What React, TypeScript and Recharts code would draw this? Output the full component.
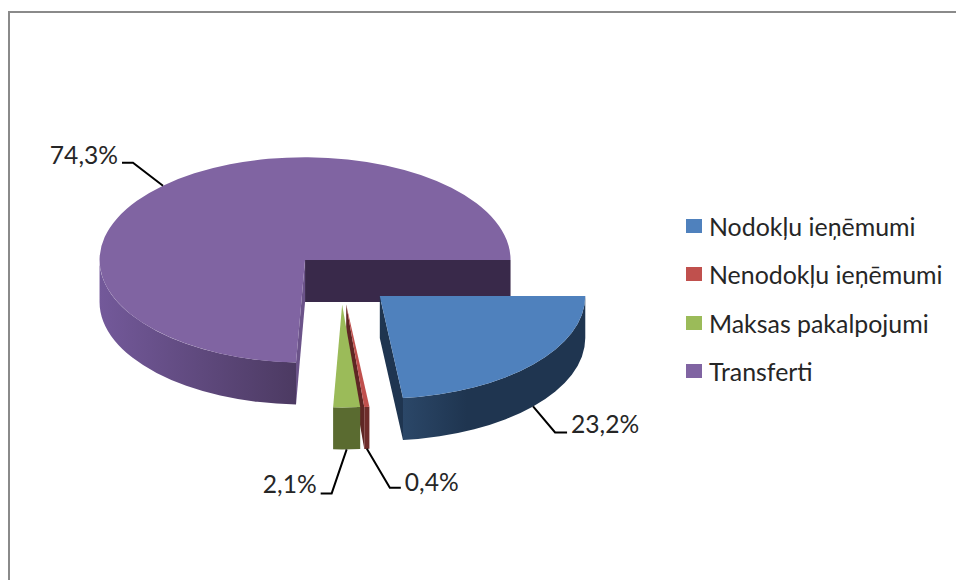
import { PieChart, Pie, Legend } from "recharts"

const categories = ["Nodokļu ieņēmumi", "Nenodokļu ieņēmumi", "Maksas pakalpojumi", "Transferti"]
const shares = [23.2, 0.4, 2.1, 74.3]

const topColors = ["#4f81bd", "#c0504d", "#9bbb59", "#8064a2"]
const wallLeftColors = ["#2b4768", "#6e2c2a", "#5a6b30", "#73599a"]
const wallRightColors = ["#1f3550", "#6e2c2a", "#5a6b30", "#4c3a62"]
const edgeColors = ["#1f3550", "#5f2624", "#5a6b30", "#6b5389"]
const purpleBackEdge = "#39294a"

// leader line elbow and end, relative to the point on the slice rim
const leaders = [
  { elbow: [22, 26], end: [34, 26], textDy: 1 },
  { elbow: [23, 39], end: [34, 39], textDy: 3 },
  { elbow: [-15, 44], end: [-26, 44], textDy: 0 },
  { elbow: [-30, -23], end: [-41, -23], textDy: 1 },
]

const FONT = "Lato, Carlito, sans-serif"
const TILT = 0.5
const EXPLODE = 0.253
const DEPTH = 42

// purple has to be painted first, so the table starts with it and the pie is rotated to match
const total = shares.reduce((a, b) => a + b, 0)
const order = [3, 0, 1, 2]
const rotation = -((total - shares[3]) / total) * 360
const table = order.map((i) => ({ name: categories[i], value: shares[i], idx: i }))

const rad = (d: number) => (d * Math.PI) / 180

function sliceCenter(cx: number, cy: number, r: number, mid: number) {
  return {
    x: cx + EXPLODE * r * Math.cos(rad(mid)),
    y: cy + EXPLODE * r * TILT * Math.sin(rad(mid)),
  }
}

function Slice3D(props: any) {
  const { cx, cy, outerRadius: r, startAngle, endAngle, midAngle, payload } = props
  const idx = payload.idx
  // turn recharts' negative angles into clockwise screen angles
  const a1 = -startAngle
  const a2 = -endAngle
  const c = sliceCenter(cx, cy, r, -midAngle)
  const ry = r * TILT
  const pt = (a: number, dy = 0) => ({
    x: c.x + r * Math.cos(rad(a)),
    y: c.y + ry * Math.sin(rad(a)) + dy,
  })
  const p1 = pt(a1)
  const p2 = pt(a2)
  const large = a2 - a1 > 180 ? 1 : 0
  const top = `M${c.x},${c.y} L${p1.x},${p1.y} A${r},${ry} 0 ${large} 1 ${p2.x},${p2.y} Z`

  const walls: any[] = []
  const radialWall = (a: number, key: string, color: string) => {
    const p = pt(a)
    walls.push(
      <path
        key={key}
        d={`M${c.x},${c.y} L${p.x},${p.y} L${p.x},${p.y + DEPTH} L${c.x},${c.y + DEPTH} Z`}
        fill={color}
      />,
    )
  }
  // a cut face shows only when it hangs outside the slice
  if (Math.cos(rad(a1)) < 0) radialWall(a1, "start", edgeColors[idx])
  if (Math.cos(rad(a2)) > 0) radialWall(a2, "end", idx === 3 ? purpleBackEdge : edgeColors[idx])

  // the rim is visible only on the front half of the ellipse
  const from = ((a1 % 360) + 360) % 360
  const span = a2 - a1
  const rimStart = Math.max(from, 0)
  const rimEnd = Math.min(from + span, 180)
  let rim = null
  if (rimEnd > rimStart) {
    const s = pt(rimStart)
    const e = pt(rimEnd)
    // purple goes light to dark across the whole rim, blue darkens quickly from the cut
    const stop = idx === 0 ? "35%" : "100%"
    rim = (
      <>
        <defs>
          <linearGradient id={`wall-${idx}`} x1="0" y1="0" x2="1" y2="0">
            <stop offset="0%" stopColor={wallLeftColors[idx]} />
            <stop offset={stop} stopColor={wallRightColors[idx]} />
          </linearGradient>
        </defs>
        <path
          d={`M${s.x},${s.y} A${r},${ry} 0 0 1 ${e.x},${e.y} L${e.x},${e.y + DEPTH} A${r},${ry} 0 0 0 ${s.x},${s.y + DEPTH} Z`}
          fill={`url(#wall-${idx})`}
        />
      </>
    )
  }

  return (
    <g>
      {walls}
      {rim}
      <path d={top} fill={topColors[idx]} />
    </g>
  )
}

function LeaderLabel(props: any) {
  const { cx, cy, outerRadius: r, midAngle, payload } = props
  const idx = payload.idx
  const mid = -midAngle
  const c = sliceCenter(cx, cy, r, mid)
  const sinMid = Math.sin(rad(mid))
  const x = c.x + r * Math.cos(rad(mid))
  const y = c.y + r * TILT * sinMid + (sinMid > 0 ? DEPTH : 0)
  const { elbow, end, textDy } = leaders[idx]
  const ex = x + end[0]
  const ey = y + end[1]
  const right = end[0] > 0
  return (
    <g>
      <polyline
        points={`${x},${y} ${x + elbow[0]},${y + elbow[1]} ${ex},${ey}`}
        fill="none"
        stroke="#000000"
        strokeWidth={2}
      />
      <text
        x={right ? ex + 4 : ex - 4}
        y={ey + textDy}
        textAnchor={right ? "start" : "end"}
        fontFamily={FONT}
        fontSize={24.6}
        fill="#262626"
      >
        {payload.value.toFixed(1).replace(".", ",")}%
      </text>
    </g>
  )
}

function ChartLegend() {
  return (
    <div style={{ position: "absolute", left: 686, top: 202, fontFamily: FONT, fontSize: 24.9, color: "#262626" }}>
      {categories.map((name, i) => (
        <div key={name} style={{ display: "flex", alignItems: "center", height: 48.3, whiteSpace: "nowrap" }}>
          <span style={{ width: 16, height: 14, background: topColors[i], marginRight: 7 }} />
          {name}
        </div>
      ))}
    </div>
  )
}

export default function App() {
  return (
    <div style={{ position: "fixed", left: 0, top: 0, width: 956, height: 580, overflow: "hidden", background: "#fff" }}>
      <div
        style={{
          position: "absolute",
          left: 8,
          top: 11,
          right: 0,
          bottom: 0,
          borderLeft: "2px solid #8a8a8a",
          borderTop: "2px solid #8a8a8a",
        }}
      />
      <PieChart width={956} height={580} margin={{ top: 0, right: 0, bottom: 0, left: 0 }} style={{ position: "absolute", left: 0, top: 0 }}>
        <Pie
          data={table}
          dataKey="value"
          nameKey="name"
          cx={341}
          cy={278.7}
          innerRadius={0}
          outerRadius={205.5}
          startAngle={rotation}
          endAngle={rotation - 360}
          stroke="none"
          shape={Slice3D}
          label={LeaderLabel}
          labelLine={false}
          isAnimationActive={false}
        />
        <Legend layout="vertical" align="right" verticalAlign="middle" content={ChartLegend} wrapperStyle={{ position: "absolute", left: 0, top: 0, width: 0, height: 0 }} />
      </PieChart>
    </div>
  )
}
